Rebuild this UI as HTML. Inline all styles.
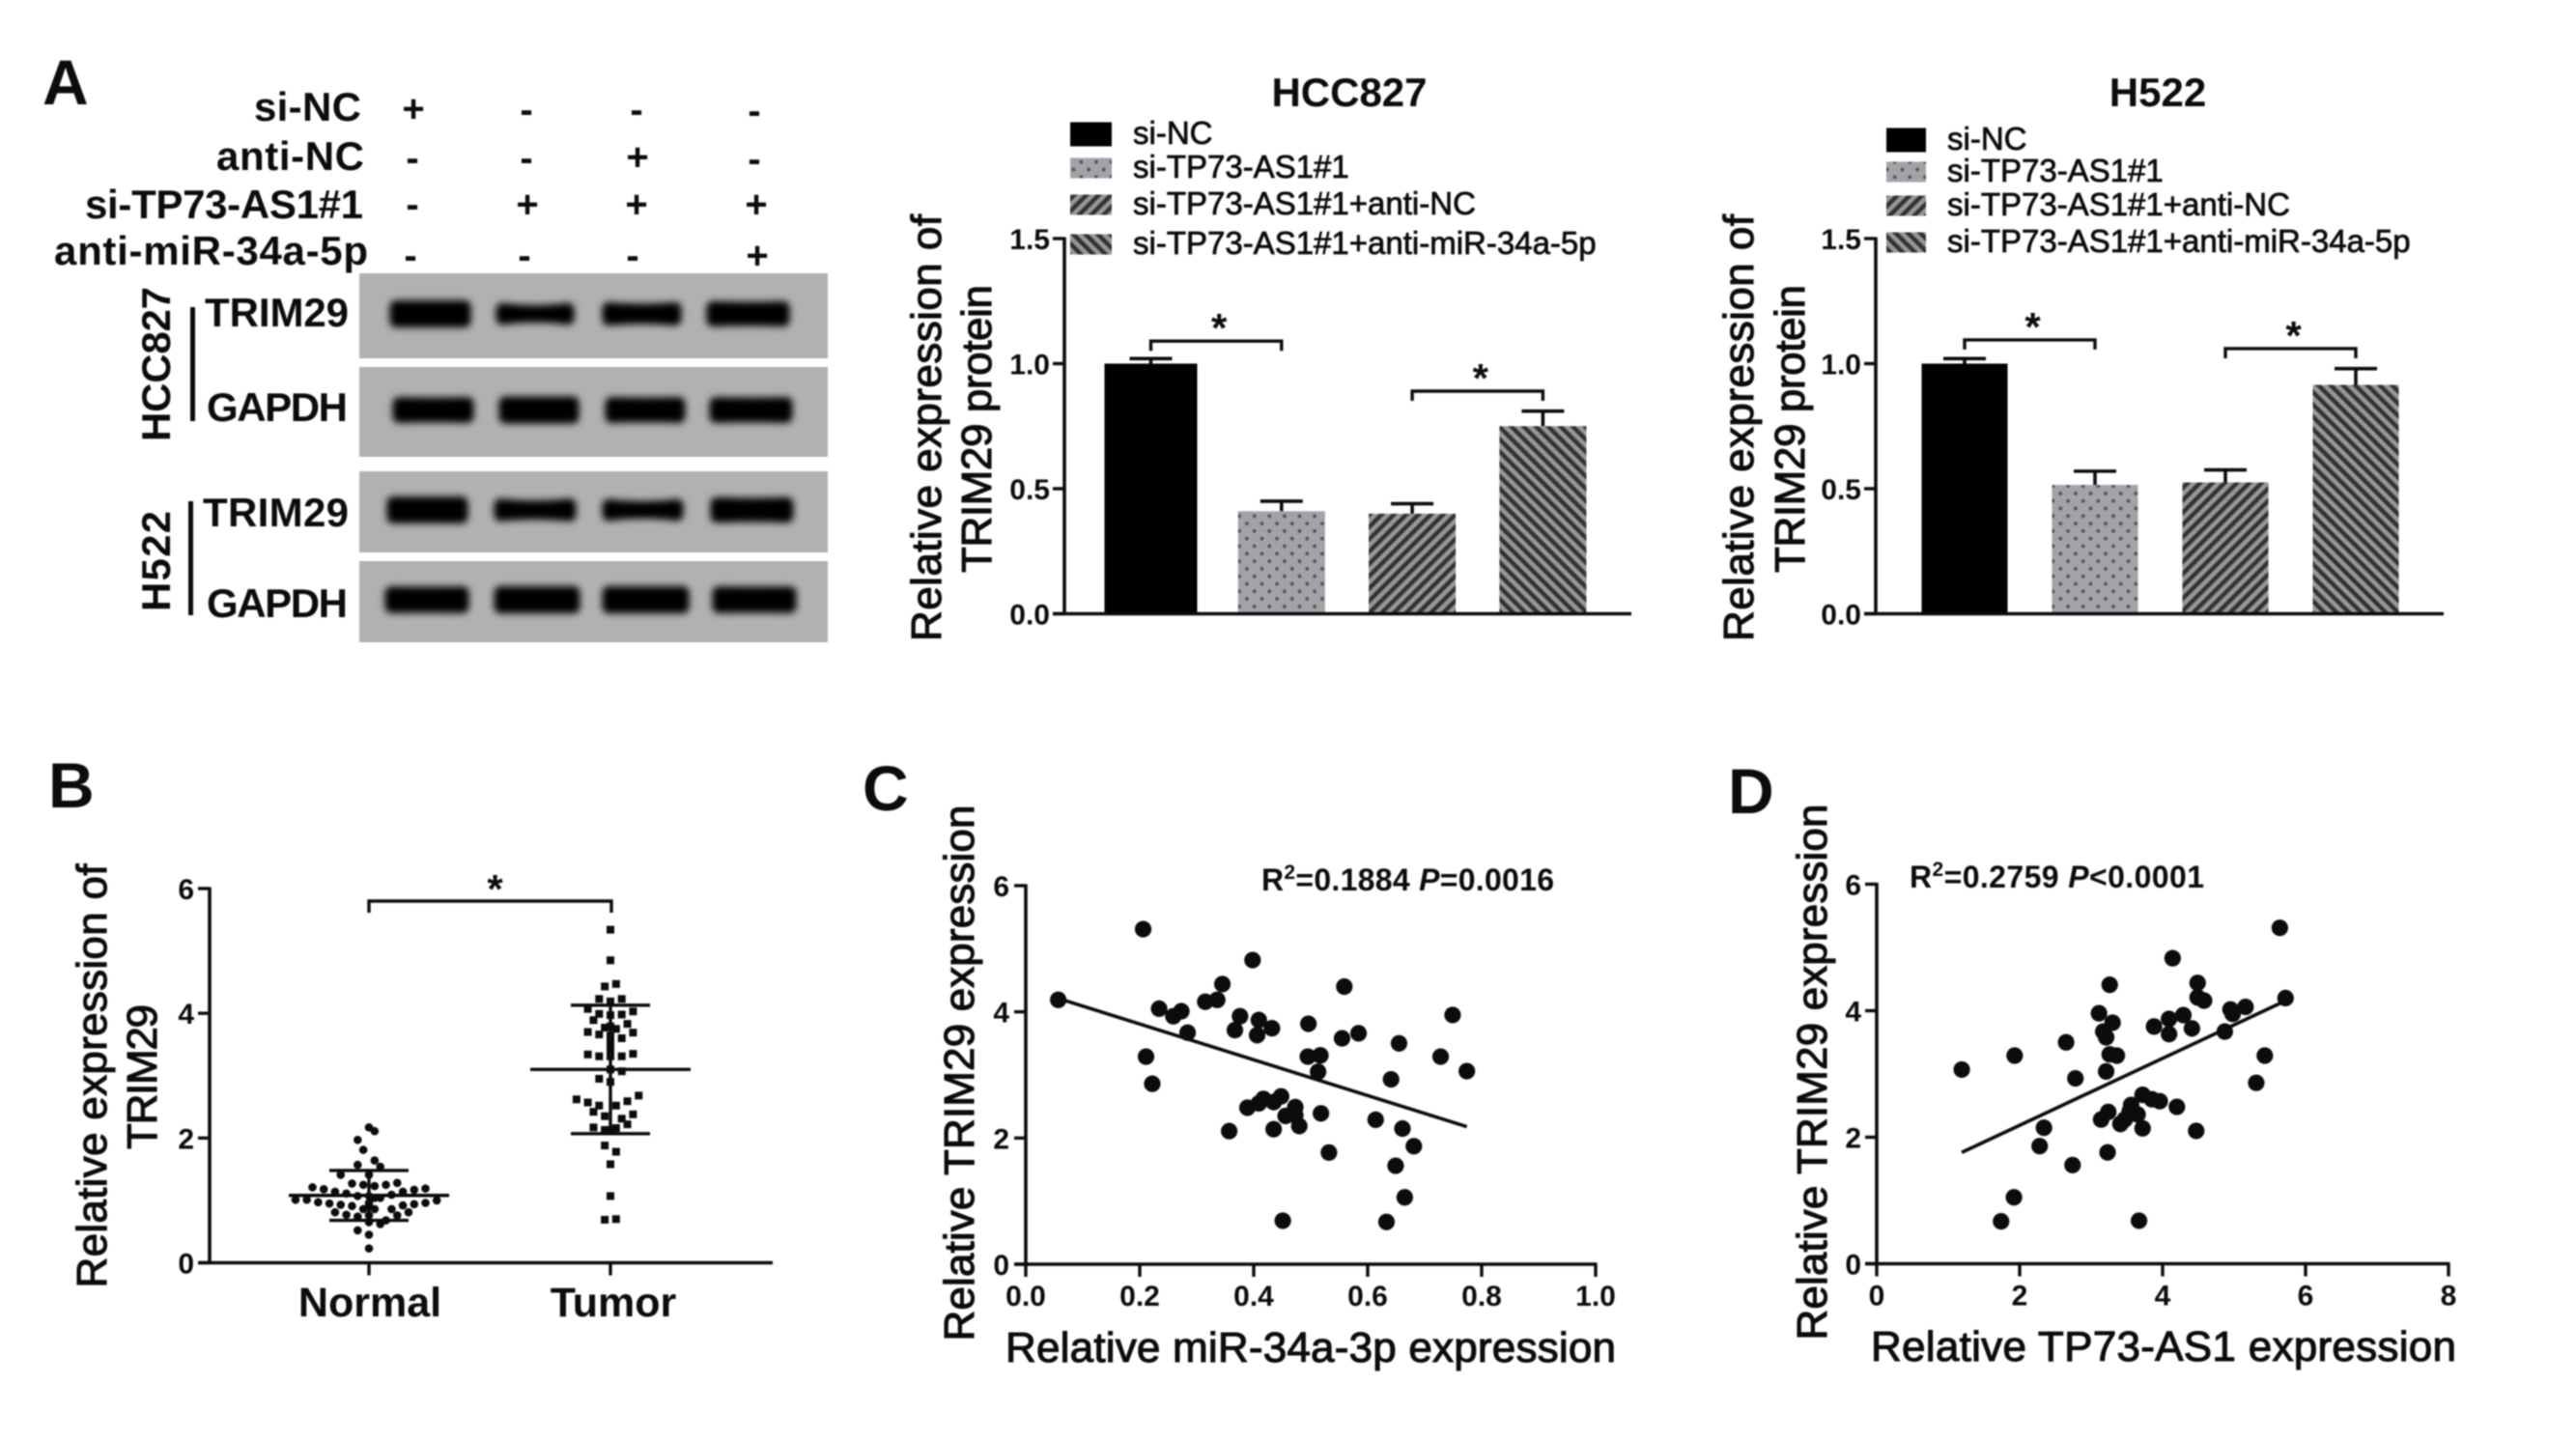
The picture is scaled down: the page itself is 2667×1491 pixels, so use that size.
<!DOCTYPE html>
<html lang="en">
<head>
<meta charset="utf-8">
<title>TRIM29 expression figure</title>
<style>
html,body{margin:0;padding:0;background:#fff;}
svg{display:block;filter:blur(0.8px);}
text{font-family:"Liberation Sans",Arial,sans-serif;fill:#0c0c0c;}
.b{font-weight:bold;}
.m{stroke:#0c0c0c;stroke-width:1.1px;}
.t42{font-size:42px;font-weight:bold;}
.sign{font-size:40px;font-weight:bold;text-anchor:middle;}
.panel{font-size:66px;font-weight:bold;}
.ylab{font-size:44px;text-anchor:middle;}
.stat{font-size:32px;font-weight:bold;}
</style>
</head>
<body>
<svg id="fig" width="2667" height="1491" viewBox="0 0 2667 1491" xmlns="http://www.w3.org/2000/svg">
<defs>
<filter id="bandBlur" x="-20%" y="-100%" width="140%" height="300%"><feGaussianBlur stdDeviation="3.8"/></filter>
<pattern id="patDots" width="15.6" height="15.6" patternUnits="userSpaceOnUse">
<rect width="15.6" height="15.6" fill="#a2a2a8"/>
<circle cx="3.9" cy="3.9" r="1.9" fill="#555"/>
<circle cx="11.7" cy="11.7" r="1.9" fill="#555"/>
</pattern>
<pattern id="patFwd" width="9" height="9" patternUnits="userSpaceOnUse" patternTransform="rotate(45)">
<rect width="9" height="9" fill="#969696"/>
<rect width="4.4" height="9" fill="#333"/>
</pattern>
<pattern id="patBack" width="9" height="9" patternUnits="userSpaceOnUse" patternTransform="rotate(-45)">
<rect width="9" height="9" fill="#969696"/>
<rect width="4.4" height="9" fill="#333"/>
</pattern>
</defs>
<rect width="2667" height="1491" fill="#fff"/>

<text class="panel" x="44" y="108">A</text>
<text class="panel" x="50" y="836">B</text>
<text class="panel" x="893" y="839">C</text>
<text class="panel" x="1789" y="842">D</text>

<g>
<text class="t42" x="374" y="125" text-anchor="end" textLength="111">si-NC</text>
<text class="t42" x="377" y="176" text-anchor="end" textLength="153">anti-NC</text>
<text class="t42" x="376" y="226" text-anchor="end" textLength="288">si-TP73-AS1#1</text>
<text class="t42" x="381" y="274" text-anchor="end" textLength="325">anti-miR-34a-5p</text>
</g>
<g>
<text class="sign" x="428" y="126">+</text>
<text class="sign" x="545" y="127">-</text>
<text class="sign" x="659" y="127">-</text>
<text class="sign" x="781" y="128">-</text>
<text class="sign" x="427" y="177">-</text>
<text class="sign" x="545" y="177">-</text>
<text class="sign" x="660" y="176">+</text>
<text class="sign" x="781" y="178">-</text>
<text class="sign" x="427" y="225">-</text>
<text class="sign" x="546" y="225">+</text>
<text class="sign" x="659" y="225">+</text>
<text class="sign" x="783" y="225">+</text>
<text class="sign" x="425" y="278">-</text>
<text class="sign" x="543" y="278">-</text>
<text class="sign" x="655" y="278">-</text>
<text class="sign" x="784" y="278">+</text>
</g>

<g id="blots"></g>

<text class="t42" transform="translate(176,377) rotate(-90)" text-anchor="middle" textLength="160">HCC827</text>
<text class="t42" transform="translate(176,581) rotate(-90)" text-anchor="middle" textLength="104">H522</text>
<rect x="197" y="318" width="5" height="118" fill="#0c0c0c"/>
<rect x="195" y="519" width="5" height="118" fill="#0c0c0c"/>
<text class="t42" x="212" y="338" textLength="149">TRIM29</text>
<text class="t42" x="214" y="436" textLength="146">GAPDH</text>
<text class="t42" x="210" y="545" textLength="151">TRIM29</text>
<text class="t42" x="214" y="639" textLength="146">GAPDH</text>

<text class="t42" x="1397" y="110" text-anchor="middle">HCC827</text>
<text class="t42" x="2234" y="110" text-anchor="middle">H522</text>

<text class="ylab m" transform="translate(974,443) rotate(-90)" textLength="442">Relative expression of</text>
<text class="ylab m" transform="translate(1026,444) rotate(-90)" textLength="298">TRIM29 protein</text>
<text class="ylab m" transform="translate(1815,443) rotate(-90)" textLength="442">Relative expression of</text>
<text class="ylab m" transform="translate(1868,444) rotate(-90)" textLength="298">TRIM29 protein</text>
<text class="ylab m" transform="translate(110,1114) rotate(-90)" textLength="439">Relative expression of</text>
<text class="ylab m" transform="translate(162,1115) rotate(-90)" textLength="150">TRIM29</text>
<text class="ylab m" transform="translate(1008,1111) rotate(-90)" textLength="555">Relative TRIM29 expression</text>
<text class="ylab m" transform="translate(1891,1110) rotate(-90)" textLength="555">Relative TRIM29 expression</text>
<text class="ylab m" x="1357" y="1410" textLength="632">Relative miR-34a-3p expression</text>
<text class="ylab m" x="2240" y="1409" textLength="606">Relative TP73-AS1 expression</text>

<text class="stat" x="1306" y="922" textLength="303">R<tspan dy="-12" font-size="21">2</tspan><tspan dy="12">=0.1884 </tspan><tspan font-style="italic">P</tspan>=0.0016</text>
<text class="stat" x="1977" y="919" textLength="305">R<tspan dy="-12" font-size="21">2</tspan><tspan dy="12">=0.2759 </tspan><tspan font-style="italic">P</tspan>&lt;0.0001</text>

<g id="charts"></g>
</svg>

<script>
// ---------- Bar chart data ----------
const barCategories = ["si-NC", "si-TP73-AS1#1", "si-TP73-AS1#1+anti-NC", "si-TP73-AS1#1+anti-miR-34a-5p"];
const hccMeans = [1.0, 0.41, 0.40, 0.75];
const hccErrors = [0.02, 0.04, 0.04, 0.06];
const h522Means = [1.0, 0.515, 0.525, 0.915];
const h522Errors = [0.02, 0.055, 0.05, 0.065];
const barTickValues = [0, 0.5, 1.0, 1.5];
const barTickLabels = ["0.0", "0.5", "1.0", "1.5"];
const hccBracketLevels = [1.09, 0.89];
const h522BracketLevels = [1.095, 1.06];
const bracketPairs = [[0, 1], [2, 3]];

// ---------- Dot plot data (panel B) ----------
const swarmCategories = ["Normal", "Tumor"];
const swarmTickValues = [0, 2, 4, 6];
const swarmTickLabels = ["0", "2", "4", "6"];
const normalValues = [2.17,2.11,1.97,1.81,1.64,1.57,1.54,1.41,1.41,1.21,1.18,1.14,1.11,1.27,1.25,1.23,1.25,1.28,1.14,1.17,1.19,1.07,1.07,1.04,1.04,1.09,0.96,1.01,1.01,0.97,0.95,0.93,0.91,0.91,0.92,0.94,0.96,1.00,0.81,0.77,0.74,0.86,0.86,0.86,0.76,0.81,0.76,0.65,0.62,0.68,0.52,0.45,0.23];
const normalSlots = [0,1,-2,-1,1,-2,2,-5,0,-10,-8,-6,-4,-3,-1,1,3,5,6,8,10,-2,0,1,2,4,0,-13,-11,-9,-7,-5,-3,0,6,8,10,12,-6,-4,-2,-1,1,4,5,7,0,0,2,3,-2,0,0];
const normalMean = 1.08;
const normalSd = 0.40;
const tumorValues = [5.34,4.85,4.43,4.47,4.23,4.19,4.23,4.07,4.03,3.99,3.97,3.98,3.89,3.83,3.77,3.75,3.79,3.70,3.66,3.64,3.60,3.69,3.53,3.42,3.34,3.31,3.31,3.31,3.35,3.10,3.07,2.95,2.90,2.68,2.62,2.57,2.59,2.52,2.52,2.42,2.38,2.35,2.31,2.22,2.17,2.13,2.13,2.16,1.88,1.78,1.58,1.07,0.69,0.70];
const tumorSlots = [0,0,-1,1,-2,0,2,-4,4,-2,0,2,-3,3,-1,1,0,-4,-2,0,2,4,0,0,-4,-2,0,2,4,0,2,-2,0,5,-6,-4,3,-2,1,-3,4,-1,2,3,-3,-1,0,1,-1,1,0,0,-1,1];
const tumorMean = 3.10;
const tumorSd = 1.03;

// ---------- Scatter data (panel C) ----------
const cXTickValues = [0, 0.2, 0.4, 0.6, 0.8, 1.0];
const cXTickLabels = ["0.0", "0.2", "0.4", "0.6", "0.8", "1.0"];
const scatterYTickValues = [0, 2, 4, 6];
const scatterYTickLabels = ["0", "2", "4", "6"];
const cX = [.206,.398,.345,.559,.057,.315,.336,.234,.259,.273,.749,.376,.409,.496,.367,.432,.284,.406,.555,.584,.655,.211,.495,.517,.728,.774,.513,.222,.641,.448,.417,.389,.409,.435,.473,.456,.473,.518,.614,.480,.357,.435,.661,.681,.532,.649,.665,.451,.633];
const cY = [5.31,4.82,4.44,4.40,4.19,4.16,4.19,4.05,3.93,4.01,3.95,3.93,3.87,3.81,3.71,3.74,3.67,3.63,3.58,3.66,3.50,3.29,3.29,3.31,3.29,3.06,3.05,2.86,2.93,2.66,2.62,2.48,2.55,2.57,2.49,2.35,2.36,2.39,2.29,2.19,2.11,2.14,2.15,1.87,1.77,1.56,1.06,0.69,0.67];
const cFitX = [0.058, 0.774];
const cFitY = [4.21, 2.18];

// ---------- Scatter data (panel D) ----------
const dXTickValues = [0, 2, 4, 6, 8];
const dXTickLabels = ["0", "2", "4", "6", "8"];
const dX = [5.64,4.14,4.49,3.26,5.72,4.49,4.58,3.11,4.95,5.16,4.98,4.29,4.09,3.30,3.88,4.41,3.17,4.09,4.87,3.21,2.65,1.93,3.26,3.36,5.43,1.19,3.21,2.78,5.31,3.72,3.85,3.96,3.56,4.20,3.24,3.14,3.65,3.41,3.72,2.34,4.47,2.28,3.23,2.74,1.92,1.74,3.67,3.47,3.54];
const dY = [5.31,4.83,4.44,4.41,4.20,4.21,4.16,3.96,4.02,4.06,3.95,3.93,3.87,3.81,3.75,3.72,3.67,3.63,3.67,3.58,3.50,3.29,3.31,3.29,3.29,3.07,3.04,2.93,2.86,2.67,2.60,2.57,2.51,2.48,2.40,2.28,2.36,2.21,2.14,2.15,2.10,1.86,1.76,1.56,1.05,0.67,0.68,2.28,2.41];
const dFitX = [1.19, 5.65];
const dFitY = [1.76, 4.12];

// ---------- Western blot band shapes ----------
const blotPanels = ["hcc827-trim29", "hcc827-gapdh", "h522-trim29", "h522-gapdh"];
const bandIntensity = [[1.0, 0.55, 0.68, 0.85], [0.9, 1.0, 0.9, 0.9], [0.98, 0.62, 0.55, 0.85], [0.95, 1.0, 1.0, 0.95]];

const NS = "http://www.w3.org/2000/svg";
const charts = document.getElementById("charts");
const blots = document.getElementById("blots");

function scale(d0, d1, r0, r1) { return v => r0 + (v - d0) * (r1 - r0) / (d1 - d0); }

function make(tag, parent, attrs) {
  const el = document.createElementNS(NS, tag);
  for (const k in attrs) el.setAttribute(k, attrs[k]);
  parent.appendChild(el);
  return el;
}
function group(parent, name) {
  const el = make("g", parent, {});
  
  
  return el;
}
function line(parent, x1, y1, x2, y2, w, name) {
  const el = make("line", parent, {x1: x1, y1: y1, x2: x2, y2: y2, stroke: "#0c0c0c", "stroke-width": w});
  
  
  return el;
}
function label(parent, str, x, y, size, anchor, bold, name) {
  const el = make("text", parent, {x: x, y: y, "font-size": size, "text-anchor": anchor, "font-weight": bold ? "bold" : "normal"});
  el.textContent = str;
  
  
  return el;
}
function yAxis(parent, sy, x, tickVals, tickLabs, labelRight) {
  line(parent, x, sy(tickVals[0]) + 1.5, x, sy(tickVals[tickVals.length - 1]) - 1.5, 3.6, "y-axis-line");
  tickVals.forEach((v, i) => {
    line(parent, x - 12, sy(v), x, sy(v), 3.4, "y-axis-tick");
    label(parent, tickLabs[i], labelRight, sy(v) + 11, 30, "end", true, "y-tick-label");
  });
}
function star(parent, x, y) {
  label(parent, "*", x, y + 18, 42, "middle", true, "significance-star");
}
function bracket(parent, x1, x2, y, drop, starDy, starShift) {
  const p = make("path", parent, {d: "M" + x1 + " " + (y + drop) + "V" + y + "H" + x2 + "V" + (y + drop), fill: "none", stroke: "#0c0c0c", "stroke-width": 3.4});
  
  
  star(parent, (x1 + x2) / 2 + starShift, y - starDy);
}

// ---------- Blots ----------
const blotRows = [[283, 88], [380, 93], [488, 84], [581, 84]];
const laneEdges = [
  [[403, 488], [513, 595], [623, 706], [731, 818]],
  [[406, 491], [516, 600], [626, 710], [734, 821]],
  [[400, 485], [511, 597], [623, 708], [735, 822]],
  [[398, 486], [511, 601], [623, 714], [737, 825]]
];
blotPanels.forEach((nm, r) => {
  const g = group(blots, "blot-" + nm);
  const bg = make("rect", g, {x: 372, y: blotRows[r][0], width: 485, height: blotRows[r][1], fill: "#b1b1b1"});
  
  
  const bands = group(g, "blot-bands");
  bands.setAttribute("filter", "url(#bandBlur)");
  const cy = blotRows[r][0] + blotRows[r][1] / 2 - 2;
  bandIntensity[r].forEach((k, i) => {
    const h = 3 + 12 * k;
    const waist = (1 - k) * 10;
    const x1 = laneEdges[r][i][0] + 7;
    const x2 = laneEdges[r][i][1] - 7;
    const mid = (x1 + x2) / 2;
    const d = "M" + x1 + " " + (cy - h / 2) + "Q" + mid + " " + (cy - h / 2 + waist) + " " + x2 + " " + (cy - h / 2) +
              "L" + x2 + " " + (cy + h / 2) + "Q" + mid + " " + (cy + h / 2 - waist) + " " + x1 + " " + (cy + h / 2) + "Z";
    const band = make("path", bands, {d: d, fill: "#000", stroke: "#000", "stroke-width": 13, "stroke-linejoin": "round"});
    
    
  });
});

// ---------- Bar charts ----------
const barFills = ["#000", "url(#patDots)", "url(#patFwd)", "url(#patBack)"];
function barChart(name, means, errors, levels, opts) {
  const g = group(charts, name);
  const sy = scale(0, 1.5, 635.5, 247);
  const sx = i => opts.x0 + i * opts.step;

  means.forEach((m, i) => {
    const top = sy(m), cx = sx(i);
    const errTop = sy(m + errors[i]);
    const w = i === 0 ? opts.w0 : opts.w;
    line(g, cx, top, cx, errTop, 3.6, "error-bar-stem");
    line(g, cx - 22, errTop, cx + 22, errTop, 3.6, "error-bar-cap");
    const bar = make("rect", g, {x: cx - w / 2, y: top, width: w, height: sy(0) - top, fill: barFills[i]});
    
    
  });

  yAxis(g, sy, opts.axisX, barTickValues, barTickLabels, opts.labelRight);
  line(g, opts.axisX - 12, sy(0), opts.xEnd, sy(0), 3.6, "x-axis-line");

  bracketPairs.forEach((p, i) => bracket(g, sx(p[0]), sx(p[1]), sy(levels[i]), 10, 17, 3));

  barCategories.forEach((c, i) => {
    const h = i === 0 ? 25 : 21;
    const sw = make("rect", g, {x: opts.legX, y: opts.legY[i] - h / 2, width: opts.legW, height: h, fill: barFills[i]});
    
    
    const t = label(g, c, opts.legTextX, opts.legY[i] + 10, 33, "start", false, "legend-entry");
    t.setAttribute("class", "m");
    t.setAttribute("style", "stroke-width:.75px");
  });
}
barChart("bar-chart-hcc827", hccMeans, hccErrors, hccBracketLevels, {
  x0: 1191.5, step: 135.3, w: 90, w0: 96, axisX: 1102, xEnd: 1689, labelRight: 1087,
  legX: 1108, legW: 43, legTextX: 1173, legY: [139, 174, 212, 253]
});
barChart("bar-chart-h522", h522Means, h522Errors, h522BracketLevels, {
  x0: 2034, step: 135, w: 89, w0: 89, axisX: 1942, xEnd: 2530, labelRight: 1927,
  legX: 1953, legW: 41, legTextX: 2016, legY: [145, 178, 213, 251]
});

// ---------- Panel B ----------
(function () {
  const g = group(charts, "dot-plot-b");
  const sy = scale(0, 6, 1307.5, 920);
  const cx = [382, 632];
  const slotW = 5.85;

  normalValues.forEach((v, i) => {
    const c = make("circle", g, {cx: cx[0] + normalSlots[i] * slotW, cy: sy(v), r: 4.3, fill: "#0c0c0c"});
    
    
  });
  tumorValues.forEach((v, i) => {
    const s = make("rect", g, {x: cx[1] + tumorSlots[i] * slotW - 4, y: sy(v) - 4, width: 8, height: 8, fill: "#0c0c0c"});
    
    
  });

  [[normalMean, normalSd], [tumorMean, tumorSd]].forEach((ms, i) => {
    line(g, cx[i] - 83, sy(ms[0]), cx[i] + 83, sy(ms[0]), 3.4, "mean-line");
    line(g, cx[i], sy(ms[0] + ms[1]), cx[i], sy(ms[0] - ms[1]), 3.4, "sd-stem");
    line(g, cx[i] - 41, sy(ms[0] + ms[1]), cx[i] + 41, sy(ms[0] + ms[1]), 3.4, "sd-cap-upper");
    line(g, cx[i] - 41, sy(ms[0] - ms[1]), cx[i] + 41, sy(ms[0] - ms[1]), 3.4, "sd-cap-lower");
  });

  yAxis(g, sy, 217, swarmTickValues, swarmTickLabels, 201);
  line(g, 205, sy(0), 800, sy(0), 3.6, "x-axis-line");
  swarmCategories.forEach((c, i) => {
    line(g, cx[i], sy(0), cx[i], sy(0) + 13, 3.4, "x-axis-tick");
    label(g, c, cx[i] + (i ? 3 : 1), 1363, 43, "middle", true, "x-category-label");
  });
  bracket(g, cx[0], cx[1] + 1, 933, 12, 16, 5);
})();

// ---------- Scatter panels ----------
function scatter(name, xs, ys, fitX, fitY, xTicks, xLabs, xDomain, xRange, y0, y6, labelRight) {
  const g = group(charts, name);
  const sx = scale(xDomain[0], xDomain[1], xRange[0], xRange[1]);
  const sy = scale(0, 6, y0, y6);

  xs.forEach((x, i) => {
    const c = make("circle", g, {cx: sx(x), cy: sy(ys[i]), r: 8.6, fill: "#0c0c0c"});
    
    
  });
  line(g, sx(fitX[0]), sy(fitY[0]), sx(fitX[1]), sy(fitY[1]), 3.6, "regression-line");

  yAxis(g, sy, xRange[0], scatterYTickValues, scatterYTickLabels, labelRight);
  line(g, xRange[0] - 12, sy(0), xRange[1] + 1.5, sy(0), 3.6, "x-axis-line");
  xTicks.forEach((t, i) => {
    line(g, sx(t), sy(0), sx(t), sy(0) + 13, 3.4, "x-axis-tick");
    label(g, xLabs[i], sx(t), sy(0) + 43, 30, "middle", true, "x-tick-label");
  });
}
scatter("scatter-chart-c", cX, cY, cFitX, cFitY, cXTickValues, cXTickLabels, [0, 1], [1062, 1652], 1309, 917, 1045);
scatter("scatter-chart-d", dX, dY, dFitX, dFitY, dXTickValues, dXTickLabels, [0, 8], [1943, 2535], 1308.5, 915.5, 1927);
</script>
</body>
</html>
